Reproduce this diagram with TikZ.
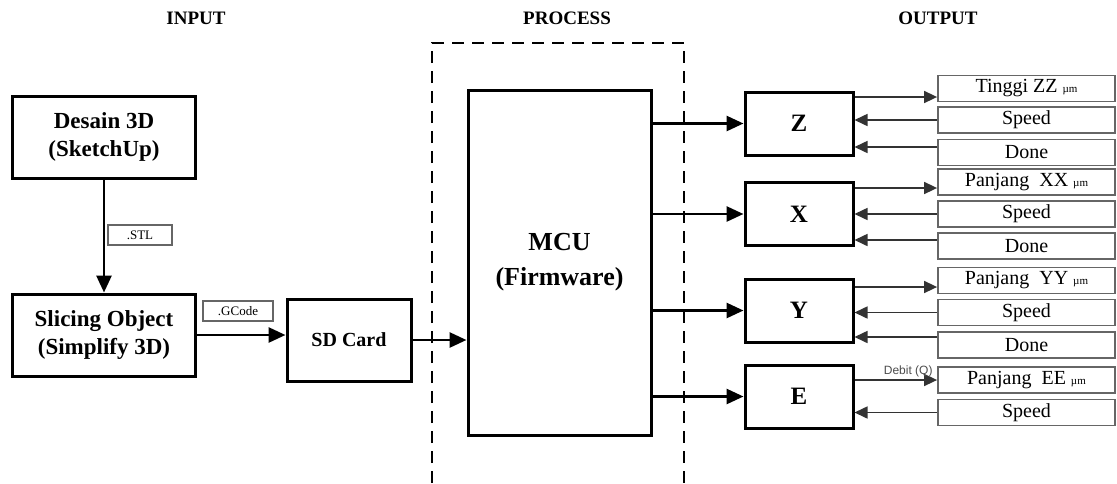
\documentclass[tikz,border=0pt]{standalone}
\usepackage{fontspec}
\setmainfont{Liberation Serif}
\newfontfamily\debitfont{Liberation Sans}
\usetikzlibrary{arrows.meta}
\tikzset{
  blok/.style={draw, line width=3pt, align=center, inner sep=0pt,
    font=\bfseries\fontsize{23}{28}\selectfont},
  keluar/.style={draw=black!60, line width=1.8pt, inner sep=0pt,
    minimum width=177pt, minimum height=26pt, font=\fontsize{20}{22}\selectfont},
  label/.style={draw=black!60, line width=1.2pt, inner sep=0pt,
    minimum height=20pt, font=\fontsize{13}{13}\selectfont},
  judul/.style={font=\bfseries\fontsize{19}{19}\selectfont},
  panah/.style={line width=2.8pt, -{Triangle[length=17pt,width=15pt]}},
  sinyal/.style={draw=black!80, line width=1.6pt, -{Triangle[length=13pt,width=12pt]}},
}
\newcommand{\um}{{\fontsize{11}{11}\selectfont µm}}
\begin{document}
\begin{tikzpicture}[x=1pt,y=-1pt]
\useasboundingbox (0,0) rectangle (1117,483);
% judul kolom
\node[judul] (hin)  at (196,18) {INPUT};
\node[judul] (hpro) at (567,18) {PROCESS};
\node[judul] (hout) at (938,18) {OUTPUT};
% input
\node[blok, minimum width=183pt, minimum height=82pt] (des) at (104,137) {Desain 3D\\(SketchUp)};
\node[blok, minimum width=183pt, minimum height=82pt] (sli) at (104,335) {Slicing Object\\(Simplify 3D)};
\node[blok, minimum width=124pt, minimum height=82pt, font=\bfseries\fontsize{20}{24}\selectfont] (sd) at (349,340) {SD Card};
\node[label, minimum width=64pt] (stl) at (140,235) {.STL};
\node[label, minimum width=70pt] (gc) at (238,311) {.GCode};
\draw[panah] (des.south) -- (sli.north);
\draw[panah] (sli.east) -- (sd.west |- sli.east);
% process
\draw[line width=2pt, dash pattern=on 12pt off 8pt]
  (432,483) -- (432,43) -- (684,43) -- (684,483);
\node[blok, minimum width=183pt, minimum height=345pt, font=\bfseries\fontsize{26}{35}\selectfont] (mcu) at (559.5,262.5) {MCU\\(Firmware)};
\draw[panah] (sd.east) -- (mcu.west |- sd.east);
% motor
\node[blok, minimum width=108pt, minimum height=63pt, font=\bfseries\fontsize{25}{25}\selectfont] (Z) at (799,123.5) {Z};
\node[blok, minimum width=108pt, minimum height=63pt, font=\bfseries\fontsize{25}{25}\selectfont] (X) at (799,214) {X};
\node[blok, minimum width=108pt, minimum height=63pt, font=\bfseries\fontsize{25}{25}\selectfont] (Y) at (799,310.5) {Y};
\node[blok, minimum width=108pt, minimum height=63pt, font=\bfseries\fontsize{25}{25}\selectfont] (E) at (799,396.5) {E};
\foreach \m in {Z,X,Y,E}
  \draw[panah] (mcu.east |- \m.west) -- (\m.west);
% output
\node[keluar] (tz) at (1026.5,88.5)  {Tinggi ZZ \um};
\node[keluar] (sz) at (1026.5,120)   {Speed};
\node[keluar] (dz) at (1026.5,152.5) {Done};
\node[keluar] (px) at (1026.5,182)   {Panjang~~XX \um};
\node[keluar] (sx) at (1026.5,214)   {Speed};
\node[keluar] (dx) at (1026.5,246)   {Done};
\node[keluar] (py) at (1026.5,280.5) {Panjang~~YY \um};
\node[keluar] (sy) at (1026.5,312.5) {Speed};
\node[keluar] (dy) at (1026.5,345)   {Done};
\node[keluar] (pe) at (1026.5,380)   {Panjang~~EE \um};
\node[keluar] (se) at (1026.5,412.5) {Speed};
\draw[sinyal] (Z.east |- 0,97) -- (tz.west |- 0,97);
\draw[sinyal] (sz.west) -- (Z.east |- sz.west);
\draw[sinyal] (dz.west |- 0,147) -- (Z.east |- 0,147);
\draw[sinyal] (X.east |- 0,188) -- (px.west |- 0,188);
\draw[sinyal] (sx.west) -- (X.east |- sx.west);
\draw[sinyal] (dx.west |- 0,240) -- (X.east |- 0,240);
\draw[sinyal] (Y.east |- 0,287) -- (py.west |- 0,287);
\draw[sinyal] (sy.west) -- (Y.east |- sy.west);
\draw[sinyal] (dy.west |- 0,337) -- (Y.east |- 0,337);
\draw[sinyal] (E.east |- pe.west) -- (pe.west)
  node[pos=0.65, above=-1pt, text=black!70, font=\debitfont\fontsize{12}{12}\selectfont] (deb) {Debit (Q)};
\draw[sinyal] (se.west) -- (E.east |- se.west);
\end{tikzpicture}
\end{document}
